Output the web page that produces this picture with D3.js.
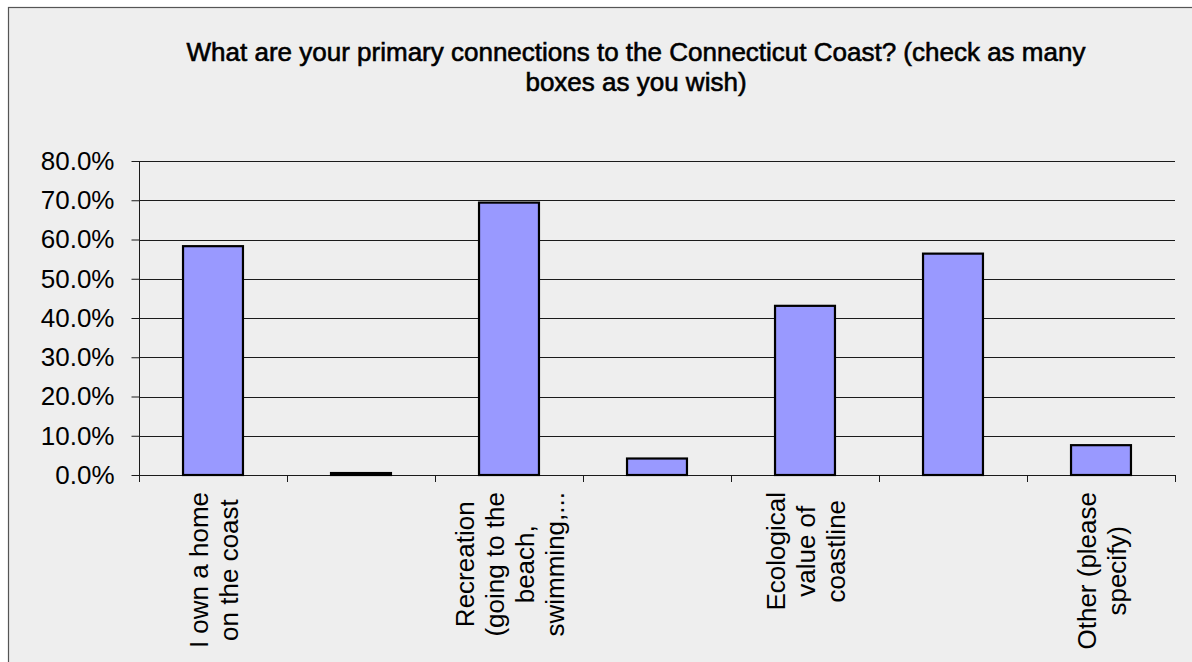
<!DOCTYPE html>
<html>
<head>
<meta charset="utf-8">
<script src="https://cdn.jsdelivr.net/npm/d3@7/dist/d3.min.js"></script>
<style>
  html, body { margin: 0; padding: 0; background: #ffffff; }
  svg { display: block; }
  text { font-family: "Liberation Sans", Arial, sans-serif; fill: #000; }
</style>
</head>
<body>
<svg id="chart" width="1192" height="662"></svg>
<script>
// ---- data ----
const categories = [
  "I own a home on the coast",
  "",
  "Recreation (going to the beach, swimming,...",
  "",
  "Ecological value of coastline",
  "",
  "Other (please specify)"
];
const labelLines = [
  ["I own a home", "on the coast"],
  [],
  ["Recreation", "(going to the", "beach,", "swimming,..."],
  [],
  ["Ecological", "value of", "coastline"],
  [],
  ["Other (please", "specify)"]
];
const values = [58.3, 0.5, 69.4, 4.2, 43.1, 56.4, 7.6];
const yTicks = [0, 10, 20, 30, 40, 50, 60, 70, 80];
const titleLines = [
  "What are your primary connections to the Connecticut Coast? (check as many",
  "boxes as you wish)"
];

// ---- layout ----
const svg = d3.select("#chart");
const W = 1192, H = 662;
const plot = { left: 139, right: 1175, top: 161, bottom: 475 };

// outer frame (extends past viewport on right & bottom)
svg.append("rect")
  .attr("x", 8.5).attr("y", 7.5)
  .attr("width", W + 20).attr("height", H + 20)
  .attr("fill", "#eeeeee")
  .attr("stroke", "#555").attr("stroke-width", 1.2);

// title
const title = svg.append("text")
  .attr("text-anchor", "middle")
  .style("font-size", "26px")
  .style("stroke", "#000").style("stroke-width", "0.6px");
titleLines.forEach((t, i) => {
  title.append("tspan").attr("x", 636).attr("y", 61 + i * 30).text(t);
});

const x = d3.scaleBand()
  .domain(d3.range(categories.length))
  .range([plot.left, plot.right])
  .paddingInner(0.595).paddingOuter(0.2975);

const xTick = d3.scaleLinear()
  .domain([0, categories.length])
  .range([plot.left, plot.right]);

const y = d3.scaleLinear()
  .domain([0, 80])
  .range([plot.bottom, plot.top]);

// gridlines
svg.append("g")
  .selectAll("line")
  .data(yTicks)
  .join("line")
  .attr("x1", plot.left).attr("x2", plot.right)
  .attr("y1", d => Math.round(y(d)) + 0.5).attr("y2", d => Math.round(y(d)) + 0.5)
  .attr("stroke", "#1a1a1a").attr("stroke-width", 1.1);

// y axis
const yAxis = d3.axisLeft(y)
  .tickValues(yTicks)
  .tickSize(8)
  .tickPadding(17)
  .tickFormat(d => d.toFixed(1) + "%");
const gy = svg.append("g")
  .attr("transform", `translate(${plot.left + 0.5},0)`)
  .call(yAxis);
gy.select(".domain").remove();
gy.selectAll(".tick line").attr("stroke", "#1a1a1a");
gy.selectAll(".tick text")
  .style("font-size", "26px")
  .style("font-family", "'Liberation Sans', Arial, sans-serif")
  .attr("fill", "#000");
gy.append("line")
  .attr("x1", 0).attr("x2", 0)
  .attr("y1", plot.top).attr("y2", plot.bottom + 7)
  .attr("stroke", "#1a1a1a");

// x ticks (between categories)
svg.append("g")
  .selectAll("line")
  .data(d3.range(categories.length + 1))
  .join("line")
  .attr("x1", d => Math.round(xTick(d)) + 0.5).attr("x2", d => Math.round(xTick(d)) + 0.5)
  .attr("y1", plot.bottom).attr("y2", plot.bottom + 7)
  .attr("stroke", "#1a1a1a");

// bars
svg.append("g")
  .selectAll("rect")
  .data(values)
  .join("rect")
  .attr("x", (d, i) => x(i))
  .attr("width", x.bandwidth())
  .attr("y", d => y(d))
  .attr("height", d => y(0) - y(d))
  .attr("fill", "#9999ff")
  .attr("stroke", "#000")
  .attr("stroke-width", 2.2);

// x labels (rotated, multi-line, centred)
const lh = 30;
const labels = svg.append("g");
labelLines.forEach((lines, i) => {
  if (!lines.length) return;
  const cx = x(i) + x.bandwidth() / 2;
  const g = labels.append("g");
  const t = g.append("text")
    .attr("text-anchor", "middle")
    .style("font-size", "26px");
  const n = lines.length;
  lines.forEach((s, k) => {
    t.append("tspan")
      .attr("x", 0)
      .attr("y", (k - (n - 1) / 2) * lh + 9.5)
      .text(s);
  });
  let maxLen = 0;
  t.selectAll("tspan").each(function () {
    maxLen = Math.max(maxLen, this.getComputedTextLength());
  });
  const cy = 492 + maxLen / 2;
  g.attr("transform", `translate(${cx},${cy}) rotate(-90)`);
});
</script>
</body>
</html>
